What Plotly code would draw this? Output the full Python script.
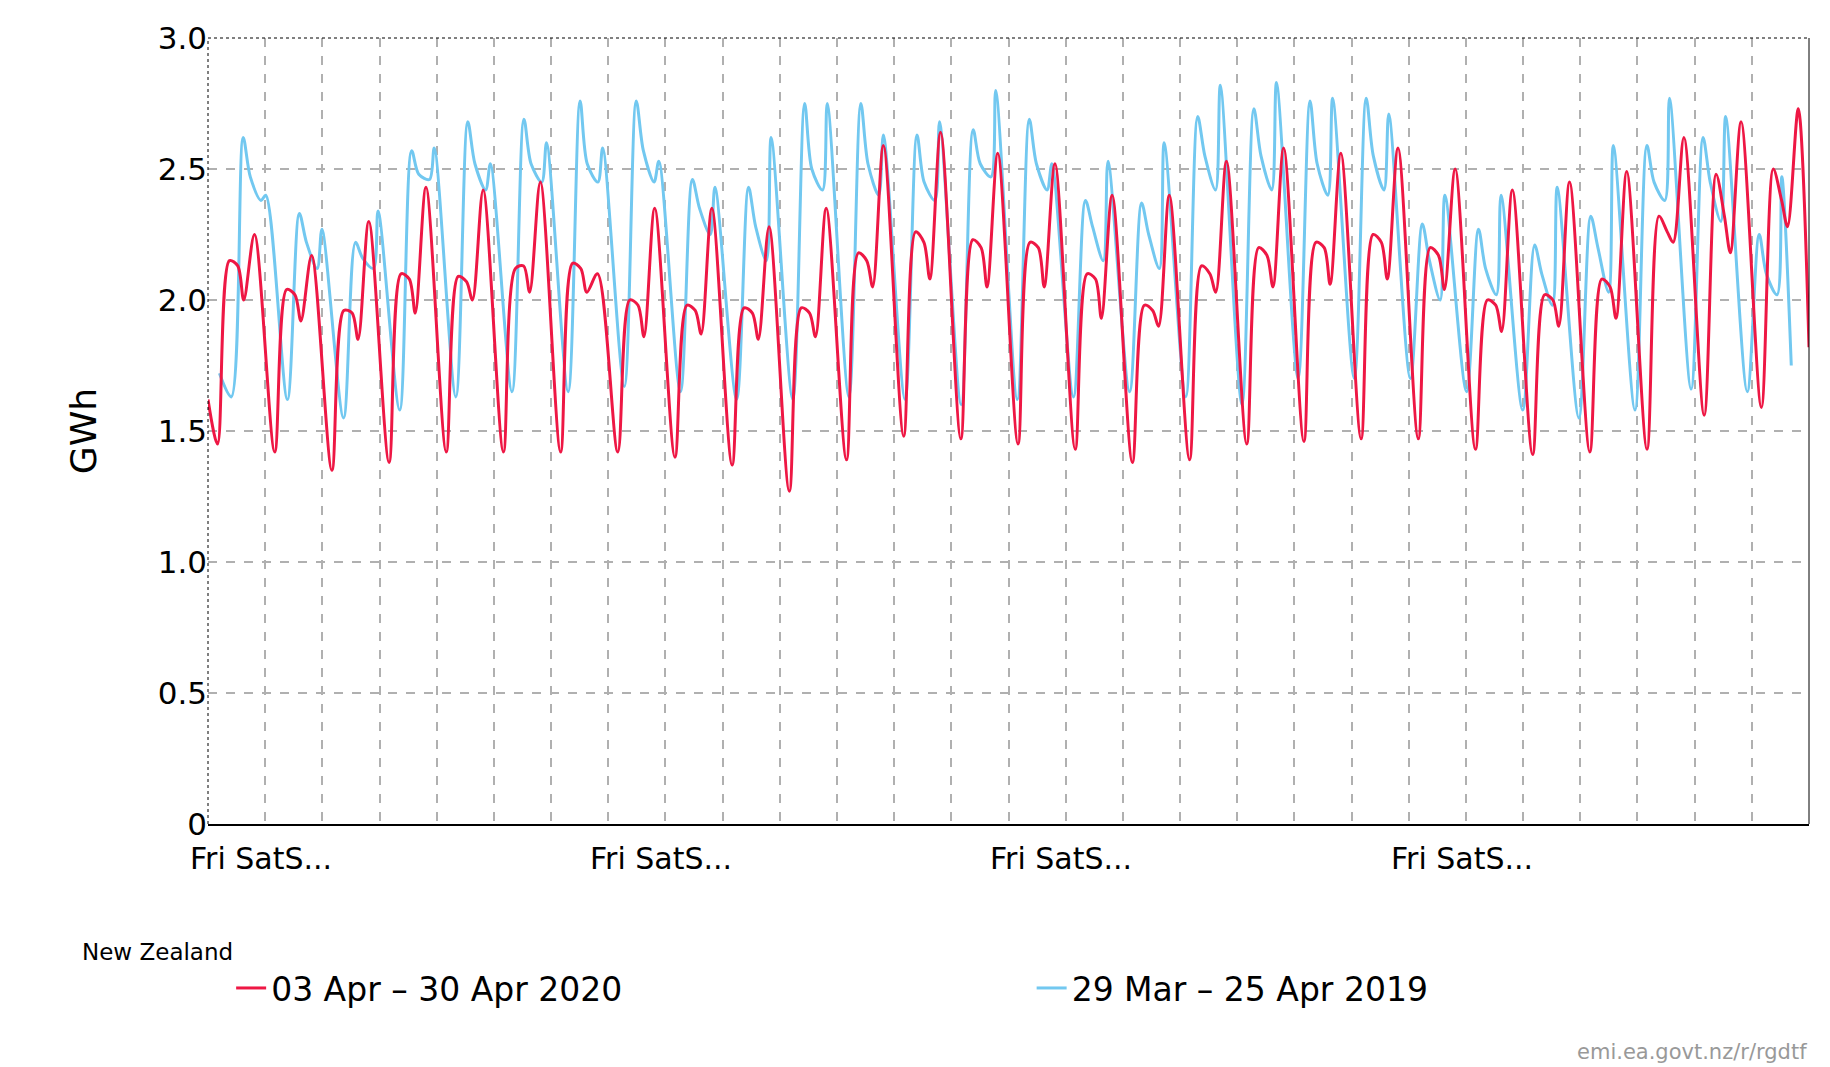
import plotly.graph_objects as go

# 2020 (red): one row per day, 03 Apr - 30 Apr
red_hours = [4, 9, 12.5, 15, 19.5]
red_trough = [1.45, 1.42, 1.35, 1.38, 1.42, 1.42, 1.42, 1.42, 1.40, 1.37, 1.27, 1.39, 1.48, 1.47,
              1.45, 1.43, 1.38, 1.39, 1.45, 1.46, 1.47, 1.47, 1.43, 1.41, 1.42, 1.43, 1.56, 1.59]
red_morning = [2.15, 2.04, 1.96, 2.10, 2.09, 2.12, 2.14, 2.00, 1.98, 1.97, 1.97, 2.18, 2.26, 2.23,
               2.22, 2.10, 1.98, 2.13, 2.20, 2.22, 2.25, 2.20, 2.00, 2.02, 2.08, 2.32, 2.48, 2.50]
red_midday = [2.13, 2.02, 1.95, 2.08, 2.07, 2.13, 2.12, 1.98, 1.96, 1.95, 1.95, 2.15, 2.22, 2.20,
              2.20, 2.08, 1.96, 2.10, 2.17, 2.20, 2.22, 2.17, 1.98, 2.00, 2.05, 2.26, 2.32, 2.38]
red_dip = [2.00, 1.92, 1.85, 1.95, 2.00, 2.03, 2.03, 1.86, 1.87, 1.85, 1.86, 2.05, 2.08, 2.05,
           2.05, 1.93, 1.90, 2.03, 2.05, 2.06, 2.08, 2.04, 1.88, 1.90, 1.93, 2.22, 2.18, 2.28]
red_peak = [2.25, 2.17, 2.30, 2.43, 2.42, 2.45, 2.10, 2.35, 2.35, 2.28, 2.35, 2.59, 2.64, 2.56,
            2.52, 2.40, 2.40, 2.53, 2.58, 2.56, 2.58, 2.50, 2.42, 2.45, 2.49, 2.62, 2.68, 2.73]
red_start, red_end = 1.62, 1.82

# 2019 (blue): one row per daily cycle, 29 Mar - 25 Apr
blue_hours = [-5, 0, 3, 7.5, 9.5]
blue_trough = [1.63, 1.62, 1.55, 1.58, 1.63, 1.65, 1.65, 1.67, 1.65, 1.62, 1.62, 1.63, 1.62, 1.60,
               1.62, 1.63, 1.65, 1.63, 1.60, 1.70, 1.70, 1.70, 1.65, 1.58, 1.55, 1.58, 1.66, 1.65]
blue_spike = [2.62, 2.33, 2.22, 2.57, 2.68, 2.69, 2.76, 2.76, 2.46, 2.43, 2.75, 2.75, 2.63, 2.65,
              2.69, 2.38, 2.37, 2.70, 2.73, 2.76, 2.77, 2.29, 2.27, 2.21, 2.32, 2.59, 2.62, 2.25]
blue_after = [2.47, 2.22, 2.16, 2.48, 2.52, 2.52, 2.52, 2.57, 2.35, 2.28, 2.50, 2.52, 2.45, 2.52,
              2.52, 2.28, 2.25, 2.55, 2.55, 2.52, 2.55, 2.15, 2.12, 2.10, 2.20, 2.45, 2.45, 2.10]
blue_plateau = [2.38, 2.12, 2.12, 2.46, 2.42, 2.45, 2.45, 2.45, 2.25, 2.15, 2.42, 2.40, 2.38, 2.47,
                2.42, 2.15, 2.12, 2.42, 2.42, 2.40, 2.42, 2.00, 2.02, 1.98, 2.03, 2.38, 2.30, 2.02]
blue_bump = [2.40, 2.27, 2.34, 2.58, 2.52, 2.60, 2.58, 2.53, 2.43, 2.62, 2.75, 2.63, 2.68, 2.80,
             2.52, 2.53, 2.60, 2.82, 2.83, 2.77, 2.71, 2.40, 2.40, 2.43, 2.59, 2.77, 2.70, 2.47]
blue_start, blue_end = 1.72, 1.75
blue_first_spike = 0.615   # day position of first 2019 spike
blue_cycle = 0.982         # 2019 cycle length on the 2020 axis (days)

tick_days = [0, 7, 14, 21]
tick_label = "Fri SatS..."
n_days = 28

# build series
rx, ry = [0], [red_start]
for d in range(n_days):
    vals = [red_trough[d], red_morning[d], red_midday[d], red_dip[d], red_peak[d]]
    for h, v in zip(red_hours, vals):
        rx.append(d + h / 24)
        ry.append(v)
rx.append(n_days); ry.append(red_end)

bx, by = [0.2], [blue_start]
for k in range(n_days):
    vals = [blue_trough[k], blue_spike[k], blue_after[k], blue_plateau[k], blue_bump[k]]
    c = blue_first_spike + k * blue_cycle
    for h, v in zip(blue_hours, vals):
        bx.append(c + h / 24)
        by.append(v)
bx.append(27.69); by.append(blue_end)

fig = go.Figure()
# blue drawn first so red sits on top; legend order reversed to list red first
fig.add_trace(go.Scatter(x=bx, y=by, mode="lines", name="29 Mar – 25 Apr 2019",
                         line=dict(color="#72c8f0", width=3, shape="spline", smoothing=0.9)))
fig.add_trace(go.Scatter(x=rx, y=ry, mode="lines", name="03 Apr – 30 Apr 2020",
                         line=dict(color="#ee1744", width=3, shape="spline", smoothing=0.9)))

for d in tick_days:
    fig.add_annotation(x=(d - 0.35) / n_days, y=0, xref="paper", yref="paper", yshift=-15,
                       text=tick_label, showarrow=False, xanchor="left", yanchor="top",
                       font=dict(size=30, color="black"))

fig.add_shape(type="line", xref="paper", yref="paper", x0=0, x1=1, y0=1, y1=1,
              line=dict(color="black", width=1, dash="dot"))
fig.add_shape(type="line", xref="paper", yref="paper", x0=0, x1=0, y0=0, y1=1,
              line=dict(color="black", width=1, dash="dot"))
fig.add_shape(type="line", xref="paper", yref="paper", x0=1, x1=1, y0=0, y1=1,
              line=dict(color="black", width=1))

fig.add_annotation(x=1.0, y=-0.29, xref="paper", yref="paper", xanchor="right", yanchor="middle",
                   text="emi.ea.govt.nz/r/rgdtf", showarrow=False,
                   font=dict(size=21, color="#999999"))

fig.update_layout(
    width=1830, height=1067,
    margin=dict(l=200, r=29, t=19, b=251),
    plot_bgcolor="white", paper_bgcolor="white",
    font=dict(family="DejaVu Sans", color="black"),
    showlegend=True,
    legend=dict(orientation="h", x=0.0, xanchor="left", y=-0.135, yanchor="top",
                traceorder="reversed",
                title=dict(text="New Zealand", side="top left", font=dict(size=23)),
                font=dict(size=33), entrywidth=0.5, entrywidthmode="fraction", itemwidth=30),
    xaxis=dict(range=[0, n_days], tickvals=list(range(0, n_days + 1)), ticktext=[""] * (n_days + 1),
               showgrid=True, gridcolor="#b0b0b0", griddash="dash", gridwidth=1.5,
               showline=True, linecolor="black", linewidth=2, ticks="", zeroline=False),
    yaxis=dict(range=[0, 3], tickvals=[0, 0.5, 1, 1.5, 2, 2.5, 3],
               ticktext=["0", "0.5", "1.0", "1.5", "2.0", "2.5", "3.0"],
               tickfont=dict(size=31), showgrid=True, gridcolor="#b0b0b0", griddash="dash",
               gridwidth=1.5, zeroline=False, ticks="", ticklen=8,
               title=dict(text="GWh", font=dict(size=36), standoff=50)),
)

fig.write_html("out.html")
